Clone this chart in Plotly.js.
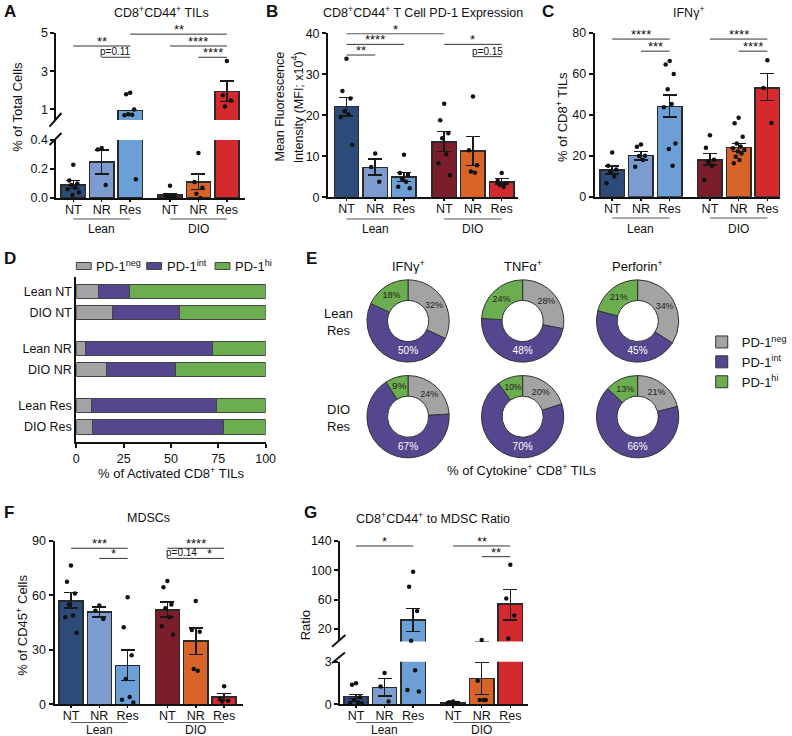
<!DOCTYPE html>
<html><head><meta charset="utf-8">
<script src="https://cdn.plot.ly/plotly-3.0.1.min.js"></script>
<style>html,body{margin:0;padding:0;background:#fff}#chart{width:792px;height:736px}</style>
</head><body><div id="chart"></div>
<script>
// ---------------- DATA ----------------
const groupNames = ["Lean", "DIO"];
const condNames = ["NT", "NR", "Res"];
const barColors = ["#2d4b78", "#7c9ccf", "#6b9fd5", "#7b1e2b", "#d8642a", "#d42a2e"];

// A: CD8+CD44+ TILs (% of total cells)
const meanA = [0.09, 0.25, 0.95, 0.02, 0.11, 1.95];
const hiA   = [0.12, 0.33, 0.95, 0.03, 0.165, 2.5];
const loA   = [0.065, 0.165, 0.95, 0.01, 0.06, 1.42];
const dotsA = [[0.23,0.12,0.10,0.09,0.07,0.06,0.04,0.02],[0.345,0.335,0.09],[1.88,1.8,1.0,0.75,0.72,0.7,0.13],
               [0.085,0.02,0.015,0.01,0.005],[0.31,0.11,0.07,0.03,0.0],[3.53,1.74,1.47,1.16]];
const sigA = [[0,2,4.32,"**"],[1,2,3.73,"p=0.11"],[2,5,4.94,"**"],[3,5,4.32,"****"],[4,5,3.73,"****"]];

// B: PD-1 MFI (x10^4)
const meanB = [22.1, 7.3, 4.9, 13.5, 11.3, 3.7];
const hiB   = [24.3, 9.3, 6.0, 16.0, 14.8, 4.6];
const loB   = [19.8, 5.5, 3.8, 11.2, 7.8, 3.2];
const dotsB = [[33.8,25.9,24.1,21,20.2,19.6,12.8],[10.7,7.4,3.8],[10.4,5.9,5.5,4.5,3.8,2.6,2.2],
               [22.8,18.8,15.6,14.4,10.5,8.3,5.4],[24.6,11.5,7.8,6.3,6.0],[5.9,4.0,3.4,3.0,2.5]];
const sigB = [[0,3,39.9,"*"],[0,2,37.3,"****"],[0,1,34.7,"**"],[3,5,37.3,"*"],[4,5,34.3,"p=0.15"]];

// C: IFNg+ (% of CD8+ TILs)
const meanC = [13, 20, 44, 18, 24, 53];
const hiC   = [15, 22, 49.5, 21, 26, 60];
const loC   = [11, 18, 39, 15.5, 22, 47];
const dotsC = [[21.5,15.1,13.3,12,9.8,6.5],[25.5,24.4,20,19.8,17.9,14.6],[66.2,64.5,59.8,52.4,45.2,43.6,26,23.3,15.1],
               [30,23.9,18,17,15.1,8.1],[38.5,35.8,29.3,26,24.5,23.6,22.8,22,21.1,19.5,17.9,16.3],[66.5,53,36]];
const sigC = [[0,2,76.9,"****"],[1,2,71,"***"],[3,5,76.9,"****"],[4,5,71,"****"]];

// D: PD-1 subsets (% of activated CD8+ TILs)
const rowLabelsD = ["Lean NT", "DIO NT", "Lean NR", "DIO NR", "Lean Res", "DIO Res"];
const pdNames = ["PD-1<sup>neg</sup>", "PD-1<sup>int</sup>", "PD-1<sup>hi</sup>"];
const pdColors = ["#a3a3a3", "#56458f", "#6cad4f"];
const negD = [11.5, 19, 5, 16, 8, 8.5];
const intD = [16.5, 35.3, 67, 36.2, 66, 69.3];
const hiD  = [72, 45.7, 28, 47.8, 26, 22.2];

// E: cytokine+ donuts
const pieCols = ["IFNγ<sup>+</sup>", "TNFα<sup>+</sup>", "Perforin<sup>+</sup>"];
const pieRows = ["Lean<br>Res", "DIO<br>Res"];
const pieLean = [[32, 50, 18], [28, 48, 24], [34, 45, 21]];
const pieDIO  = [[24, 67, 9], [20, 70, 10], [21, 66, 13]];

// F: MDSCs (% of CD45+)
const meanF = [57, 51, 21.5, 52, 35, 4];
const hiF   = [61.5, 53.5, 30, 56.5, 42, 6];
const loF   = [53, 48, 13, 48, 27.5, 2];
const dotsF = [[76.5,67.5,61,55,49,48,39.5],[54.5,51.5,47],[59,42.5,27,14,4,2.5,1],
               [68,64.5,55,53,48,43,38.5],[57,41,40,19.5,18.5],[10,3,2,1.5]];
const sigF = [[0,2,86,"***"],[1,2,80.4,"*"],[3,5,86,"****"],[3,4,80.4,"p=0.14"],[4,5,80.4,"*"]];

// G: CD8+CD44+ to MDSC ratio
const meanG = [0.55, 1.2, 32.3, 0.1, 1.8, 53.7];
const hiG   = [0.7, 1.8, 47.7, 0.15, 2.95, 74];
const loG   = [0.4, 0.6, 16.3, 0.05, 0.7, 32];
const dotsG = [[1.48,1.38,0.5,0.3,0.15,0.1,0.05],[2.2,1.25,0.2],[98,77.7,44.5,4,2.4,1.0,0.9],
               [0.2,0.15,0.1,0.08,0.05,0.02],[5,1.66,0.3,0.3,0.3],[107.6,61.4,38.2,7]];
const sigG = [[0,2,133.2,"*"],[3,5,133.2,"**"],[4,5,118.6,"**"]];

// ---------------- LAYOUT HELPERS ----------------
const W = 792, H = 736;
const FONT = 'Arial, "Liberation Sans", sans-serif';
const px = v => v / W, py = v => 1 - v / H;
const XPOS = [0, 1, 2, 3.4, 4.4, 5.4];
const JIT = [0, -0.14, 0.14, -0.07, 0.07, -0.2, 0.2, -0.03, 0.1, -0.1, 0.03, -0.17, 0.17];
const tickText = groupNames.flatMap(() => condNames);

const traces = [], shapes = [], annotations = [];
const layout = {
  width: W, height: H, margin: {l: 0, r: 0, t: 0, b: 0},
  paper_bgcolor: '#fff', plot_bgcolor: 'rgba(0,0,0,0)', barmode: 'stack',
  font: {family: FONT, size: 13, color: '#111'}, showlegend: true,
  shapes, annotations
};
const axBase = () => ({showline: true, linecolor: '#111', linewidth: 2, ticks: 'outside', tickcolor: '#111',
  tickwidth: 2, ticklen: 4, showgrid: false, zeroline: false, fixedrange: true,
  tickfont: {family: FONT, size: 12.5, color: '#111'}});

function text(x, y, t, o = {}) {
  annotations.push(Object.assign({xref: 'paper', yref: 'paper', x: px(x), y: py(y), text: t, showarrow: false,
    xanchor: 'center', yanchor: 'middle', font: {family: FONT, size: 13, color: '#111'}}, o));
}
function letter(x, y, t) { text(x, y, '<b>' + t + '</b>', {xanchor: 'left', font: {family: FONT, size: 17, color: '#111'}}); }
function slash(x0, y0, x1, y1) {
  shapes.push({type: 'line', xref: 'paper', yref: 'paper', x0: px(x0), y0: py(y0), x1: px(x1), y1: py(y1), line: {color: '#111', width: 2}});
}
function legendBox(x, y, color, label) {
  shapes.push({type: 'rect', xref: 'paper', yref: 'paper', x0: px(x), x1: px(x + 15), y0: py(y + 3.5), y1: py(y - 3.5),
    fillcolor: color, line: {color: '#444', width: 1}});
  text(x + 18, y, label, {xanchor: 'left'});
}

function barPanel(o) {
  const xKey = 'xaxis' + (o.xa === 'x' ? '' : o.xa.slice(1));
  layout[xKey] = Object.assign(axBase(), {domain: [px(o.xDom[0]), px(o.xDom[1])], range: o.xRange,
    anchor: o.ys[0].id, tickvals: XPOS, ticktext: tickText, ticklen: 2, tickwidth: 1.5, ticklabelstandoff: -3});
  o.ys.forEach(yd => {
    const yKey = 'yaxis' + (yd.id === 'y' ? '' : yd.id.slice(1));
    layout[yKey] = Object.assign(axBase(), {domain: [py(yd.dom[0]), py(yd.dom[1])], range: yd.range,
      anchor: o.xa, tickvals: yd.tickvals, tickformat: yd.tickformat || ''});
    traces.push({type: 'bar', x: XPOS, y: o.means, xaxis: o.xa, yaxis: yd.id, width: 0.85,
      marker: {color: barColors, line: {color: '#2a2a2a', width: 1.5}},
      error_y: {type: 'data', symmetric: false,
        array: o.hi.map((v, i) => v - o.means[i]), arrayminus: o.lo.map((v, i) => o.means[i] - v),
        color: '#1a1a1a', thickness: 1.5, width: 7},
      showlegend: false, hoverinfo: 'skip'});
    const dx = [], dy = [];
    o.dots.forEach((arr, i) => arr.forEach((v, j) => {
      if (v >= yd.range[0] - 1e-9 && v <= yd.range[1]) { dx.push(XPOS[i] + JIT[j % JIT.length]); dy.push(v); }
    }));
    traces.push({type: 'scatter', mode: 'markers', x: dx, y: dy, xaxis: o.xa, yaxis: yd.id,
      marker: {color: '#111', size: 4.5}, cliponaxis: false, showlegend: false, hoverinfo: 'skip'});
  });
  o.sig.forEach(([a, b, y, lab]) => {
    shapes.push({type: 'line', xref: o.xa, yref: o.sigAxis, x0: XPOS[a], x1: XPOS[b], y0: y, y1: y,
      line: {color: '#333', width: 1}});
    const isP = lab.startsWith('p');
    annotations.push({xref: o.xa, yref: o.sigAxis, x: (XPOS[a] + XPOS[b]) / 2, y: y,
      text: lab, showarrow: false, yanchor: 'bottom', yshift: isP ? -2 : -5,
      font: {family: FONT, size: isP ? 10 : 13, color: '#111'}});
  });
  groupNames.forEach((g, k) => {
    const a = XPOS[k * 3], b = XPOS[k * 3 + 2];
    shapes.push({type: 'line', xref: o.xa, yref: 'paper', x0: a, x1: b, y0: py(o.lineY), y1: py(o.lineY),
      line: {color: '#555', width: 1}});
    annotations.push({xref: o.xa, yref: 'paper', x: (a + b) / 2, y: py(o.labY), text: g, showarrow: false,
      yanchor: 'middle', font: {family: FONT, size: 12, color: '#111'}});
  });
}

// ---------- Panel A ----------
barPanel({xa: 'x', xDom: [57, 247], xRange: [-0.59, 6.03],
  ys: [{id: 'y', dom: [198, 140], range: [0, 0.4], tickvals: [0, 0.2, 0.4], tickformat: '.1f'},
       {id: 'y2', dom: [120, 33], range: [0.45, 5], tickvals: [1, 3, 5]}],
  means: meanA, hi: hiA, lo: loA, dots: dotsA, sig: sigA, sigAxis: 'y2', lineY: 219, labY: 228.5});
slash(50, 126.7, 62, 113); slash(50, 145, 62, 133);
letter(2, 11, 'A'); text(163, 12, 'CD8<sup>+</sup>CD44<sup>+</sup> TILs', {font: {family: FONT, size: 12.5, color: '#111'}});
text(18, 107, '% of Total Cells', {textangle: -90});

// ---------- Panel B ----------
barPanel({xa: 'x2', xDom: [331, 523], xRange: [-0.64, 5.98],
  ys: [{id: 'y3', dom: [197.3, 33.3], range: [0, 40], tickvals: [0, 10, 20, 30, 40]}],
  means: meanB, hi: hiB, lo: loB, dots: dotsB, sig: sigB, sigAxis: 'y3', lineY: 219, labY: 228.5});
letter(266, 11, 'B'); text(427, 12, 'CD8<sup>+</sup>CD44<sup>+</sup> T Cell PD-1 Expression', {font: {family: FONT, size: 12.5, color: '#111'}});
text(282, 107, 'Mean Fluorescence', {textangle: -90, font: {family: FONT, size: 12.5, color: '#111'}});
text(300, 107, 'Intensity (MFI; x10<sup>4</sup>)', {textangle: -90, font: {family: FONT, size: 12.5, color: '#111'}});

// ---------- Panel C ----------
barPanel({xa: 'x3', xDom: [600, 787], xRange: [-0.61, 5.84],
  ys: [{id: 'y4', dom: [196.7, 32.7], range: [0, 80], tickvals: [0, 20, 40, 60, 80]}],
  means: meanC, hi: hiC, lo: loC, dots: dotsC, sig: sigC, sigAxis: 'y4', lineY: 218, labY: 228.5});
letter(545, 11, 'C'); text(695, 12, 'IFNγ<sup>+</sup>', {font: {family: FONT, size: 12.5, color: '#111'}});
text(567, 117, '% of CD8<sup>+</sup> TILs', {textangle: -90});

// ---------- Panel D ----------
const YPOS_D = [0, 1, 2.7, 3.7, 5.4, 6.4];
layout.xaxis4 = Object.assign(axBase(), {domain: [px(77), px(268)], range: [0, 100], anchor: 'y5',
  tickvals: [0, 25, 50, 75, 100]});
layout.yaxis5 = Object.assign(axBase(), {domain: [py(442), py(277)], range: [7.11, -0.67], anchor: 'x4',
  tickvals: YPOS_D, ticktext: rowLabelsD, ticks: '', ticklen: 0});
[negD, intD, hiD].forEach((vals, k) => {
  traces.push({type: 'bar', orientation: 'h', x: vals, y: YPOS_D, xaxis: 'x4', yaxis: 'y5', width: 0.67,
    name: pdNames[k], marker: {color: pdColors[k], line: {color: '#444', width: 1}}, showlegend: false, hoverinfo: 'skip'});
});
[77, 148, 217].forEach((x, k) => legendBox(x, 266, pdColors[k], pdNames[k]));
letter(2, 258, 'D');
text(173, 473, '% of Activated CD8<sup>+</sup> TILs');

// ---------- Panel E ----------
const pieCX = [411.7, 527.3, 643.3], pieCY = [321, 416.7], R = 41.5;
[pieLean, pieDIO].forEach((rowVals, r) => {
  rowVals.forEach((vals, c) => {
    traces.push({type: 'pie', values: vals, labels: pdNames, sort: false, direction: 'clockwise', rotation: 0,
      hole: 0.5, domain: {x: [px(pieCX[c] - R), px(pieCX[c] + R)], y: [py(pieCY[r] + R), py(pieCY[r] - R)]},
      marker: {colors: pdColors, line: {color: '#333', width: 1}},
      texttemplate: '%{value}%', textposition: 'inside', insidetextorientation: 'horizontal',
      textfont: {family: FONT, size: 10, color: ['#222', '#fff', '#222']},
      legend: 'legend2', hoverinfo: 'skip'});
  });
});
layout.legend2 = {orientation: 'v', traceorder: 'normal', x: px(708), y: py(327), xanchor: 'left', yanchor: 'top',
  font: {family: FONT, size: 13, color: '#111'}, bgcolor: 'rgba(0,0,0,0)', itemwidth: 30};
letter(307, 258, 'E');
pieCols.forEach((t, c) => text(pieCX[c], 266, t));
pieRows.forEach((t, r) => text(342, pieCY[r] + 1, t));
text(527, 470, '% of Cytokine<sup>+</sup> CD8<sup>+</sup> TILs');

// ---------- Panel F ----------
barPanel({xa: 'x5', xDom: [55, 245], xRange: [-0.58, 6.06],
  ys: [{id: 'y6', dom: [704.3, 541], range: [0, 90], tickvals: [0, 30, 60, 90]}],
  means: meanF, hi: hiF, lo: loF, dots: dotsF, sig: sigF, sigAxis: 'y6', lineY: 722.5, labY: 730.3});
letter(2, 512, 'F'); text(150, 518, 'MDSCs', {font: {family: FONT, size: 12.5, color: '#111'}});
text(22, 625, '% of CD45<sup>+</sup> Cells', {textangle: -90});

// ---------- Panel G ----------
barPanel({xa: 'x6', xDom: [343.3, 533], xRange: [-0.55, 6.03],
  ys: [{id: 'y7', dom: [704.3, 661.7], range: [0, 3], tickvals: [0, 3]},
       {id: 'y8', dom: [641.4, 541], range: [3, 140], tickvals: [20, 60, 100, 140]}],
  means: meanG, hi: hiG, lo: loG, dots: dotsG, sig: sigG, sigAxis: 'y8', lineY: 722.5, labY: 730.3});
slash(335, 646.7, 348.5, 635); slash(335, 663, 348, 652.5);
letter(305, 512, 'G'); text(437, 518, 'CD8<sup>+</sup>CD44<sup>+</sup> to MDSC Ratio', {font: {family: FONT, size: 12.5, color: '#111'}});
text(308, 625, 'Ratio', {textangle: -90});

Plotly.newPlot('chart', traces, layout, {staticPlot: true, displayModeBar: false});
</script>
</body></html>
